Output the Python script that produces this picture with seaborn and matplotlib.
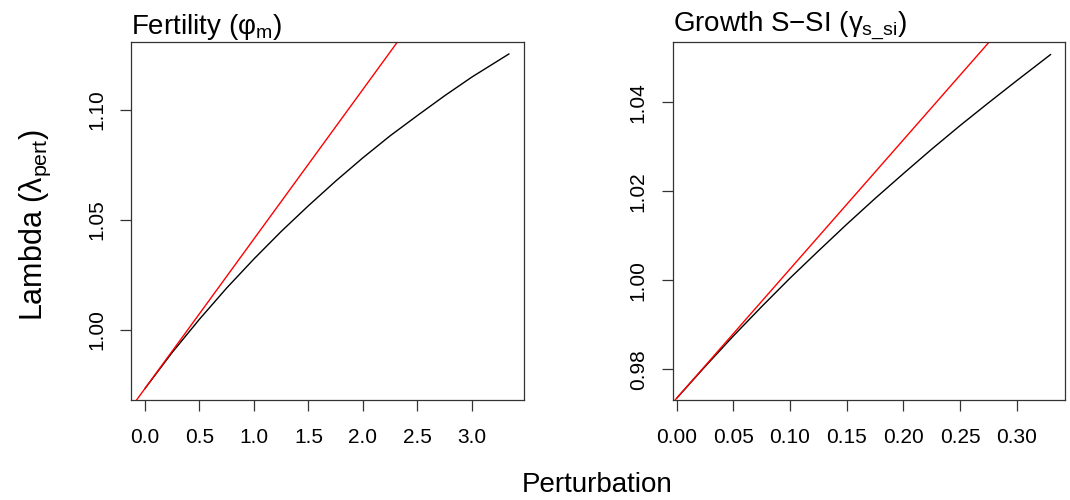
import matplotlib
matplotlib.use("Agg")
import seaborn as sns
from matplotlib import pyplot as plt

# Fertility panel: perturbation vs lambda
fert_x = [0.0, 0.25, 0.5, 0.75, 1.0, 1.25, 1.5, 1.75, 2.0, 2.25, 2.5, 2.75, 3.0, 3.34]
fert_lambda = [0.9734, 0.9898, 1.0049, 1.0191, 1.0323, 1.0448, 1.0565, 1.0677,
               1.0783, 1.0883, 1.0975, 1.1065, 1.1150, 1.1255]
fert_tangent = (0.9734, 0.068)  # intercept, slope
fert_xticks = [0.0, 0.5, 1.0, 1.5, 2.0, 2.5, 3.0]
fert_yticks = [1.00, 1.05, 1.10]

# Growth S-SI panel
grow_x = [0.0, 0.025, 0.05, 0.075, 0.1, 0.125, 0.15, 0.175, 0.2, 0.225, 0.25, 0.275, 0.3, 0.33]
grow_lambda = [0.9735, 0.9806, 0.9875, 0.9941, 1.0005, 1.0066, 1.0126, 1.0184,
               1.0240, 1.0295, 1.0348, 1.0399, 1.0449, 1.0508]
grow_tangent = (0.9735, 0.2905)
grow_xticks = [0.00, 0.05, 0.10, 0.15, 0.20, 0.25, 0.30]
grow_yticks = [0.98, 1.00, 1.02, 1.04]

sns.set_theme(style="ticks")
plt.rcParams["font.family"] = ["Liberation Sans", "DejaVu Sans"]
plt.rcParams["mathtext.fontset"] = "custom"
plt.rcParams["mathtext.rm"] = "Liberation Sans"
plt.rcParams["mathtext.it"] = "Liberation Sans"
plt.rcParams["mathtext.bf"] = "Liberation Sans:bold"

fig = plt.figure(figsize=(10.7, 5.0), dpi=100)
ax1 = fig.add_axes([0.1224, 0.2, 0.3673, 0.716])
ax2 = fig.add_axes([0.6287, 0.2, 0.3666, 0.716])

panels = [
    (ax1, fert_x, fert_lambda, fert_tangent, fert_xticks, fert_yticks,
     "Fertility ($\\varphi_{m}$)", (-0.128, 3.477), (0.9682, 1.1309), "%.1f", "%.2f"),
    (ax2, grow_x, grow_lambda, grow_tangent, grow_xticks, grow_yticks,
     "Growth S\u2212SI ($\\gamma_{s\\_si}$)", (-0.0035, 0.3426), (0.9731, 1.0536), "%.2f", "%.2f"),
]

for ax, xs, ys, (b0, b1), xt, yt, title, xlim, ylim, xfmt, yfmt in panels:
    sns.lineplot(x=xs, y=ys, ax=ax, color="black", linewidth=1.0, sort=False)
    ax.axline((0.0, b0), slope=b1, color="red", linewidth=1.0)
    ax.set_xlim(*xlim)
    ax.set_ylim(*ylim)
    ax.set_xticks(xt)
    ax.set_xticklabels([xfmt % v for v in xt])
    ax.set_yticks(yt)
    ax.set_yticklabels([yfmt % v for v in yt], rotation=90, va="center")
    ax.tick_params(axis="both", direction="out", length=8, width=0.9,
                   color="#333333", labelsize=15, labelcolor="black")
    ax.tick_params(axis="x", pad=12)
    ax.tick_params(axis="y", pad=10)
    for spine in ax.spines.values():
        spine.set_visible(True)
        spine.set_color("#333333")
        spine.set_linewidth(0.9)
    ax.set_title(title, loc="left", fontsize=20, pad=4, color="black")
    ax.set_xlabel("")
    ax.set_ylabel("")

fig.text(0.033, 0.55, "Lambda ($\\lambda_{pert}$)", rotation=90, fontsize=22,
         ha="center", va="center", color="black")
fig.text(0.558, 0.03, "Perturbation", fontsize=20, ha="center", va="center",
         color="black")

fig.savefig("out.png", dpi=100)
